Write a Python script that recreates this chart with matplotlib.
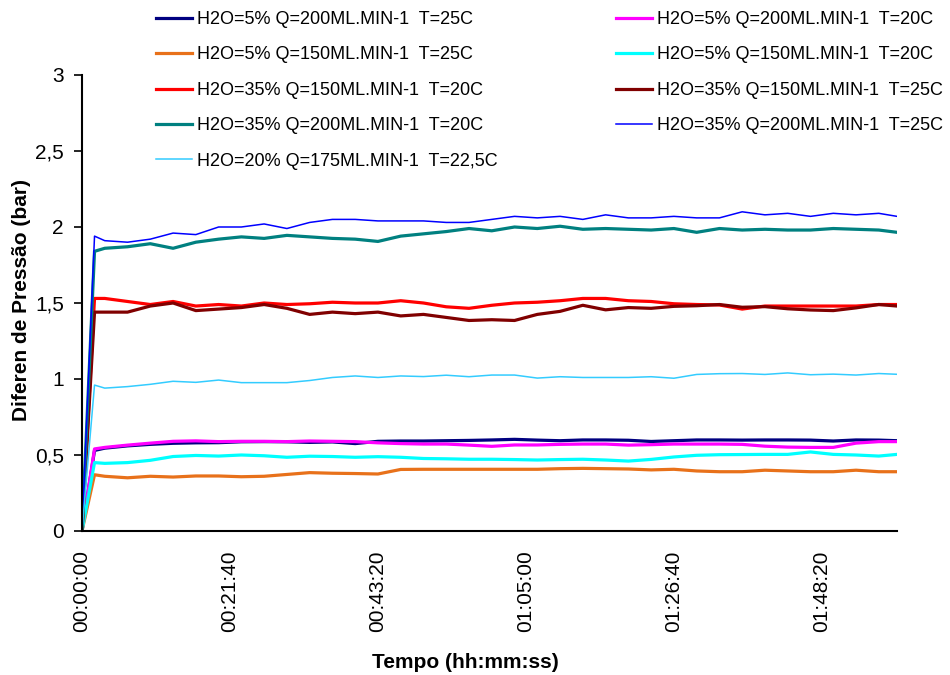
import matplotlib
matplotlib.use("Agg")
import matplotlib.pyplot as plt
from matplotlib.ticker import FuncFormatter, MultipleLocator

plt.rcParams['font.family'] = ['Liberation Sans', 'DejaVu Sans']

# time in seconds
time_s = [0, 110] + list(range(200, 7001, 200)) + [7160]

navy_5_200_25 = [0, 0.53, 0.545, 0.56, 0.57, 0.577, 0.58, 0.581, 0.587, 0.588, 0.587, 0.583, 0.586, 0.575,
                 0.59, 0.592, 0.592, 0.594, 0.596, 0.599, 0.603, 0.598, 0.594, 0.599, 0.599, 0.597, 0.589,
                 0.594, 0.599, 0.599, 0.598, 0.599, 0.599, 0.598, 0.592, 0.599, 0.598, 0.594]
magenta_5_200_20 = [0, 0.54, 0.55, 0.565, 0.578, 0.59, 0.593, 0.588, 0.59, 0.59, 0.588, 0.592, 0.59, 0.588,
                    0.58, 0.575, 0.572, 0.572, 0.565, 0.557, 0.566, 0.566, 0.57, 0.572, 0.572, 0.565, 0.568,
                    0.572, 0.572, 0.572, 0.57, 0.558, 0.552, 0.55, 0.55, 0.578, 0.588, 0.588]
orange_5_150_25 = [0, 0.37, 0.36, 0.35, 0.36, 0.355, 0.362, 0.362, 0.357, 0.36, 0.372, 0.384, 0.38, 0.378,
                   0.375, 0.405, 0.406, 0.406, 0.406, 0.406, 0.406, 0.406, 0.41, 0.412, 0.41, 0.408, 0.402,
                   0.406, 0.395, 0.39, 0.39, 0.40, 0.395, 0.39, 0.39, 0.40, 0.39, 0.39]
cyan_5_150_20 = [0, 0.45, 0.445, 0.45, 0.465, 0.49, 0.497, 0.493, 0.5, 0.495, 0.485, 0.492, 0.49, 0.485,
                 0.489, 0.485, 0.477, 0.475, 0.472, 0.472, 0.47, 0.467, 0.47, 0.472, 0.467, 0.46, 0.471,
                 0.487, 0.498, 0.502, 0.503, 0.504, 0.504, 0.52, 0.504, 0.5, 0.493, 0.504]
red_35_150_20 = [0, 1.53, 1.53, 1.51, 1.49, 1.51, 1.48, 1.49, 1.48, 1.50, 1.49, 1.495, 1.505, 1.50,
                 1.50, 1.515, 1.50, 1.475, 1.465, 1.485, 1.50, 1.505, 1.515, 1.53, 1.53, 1.515, 1.51,
                 1.495, 1.49, 1.487, 1.46, 1.48, 1.48, 1.48, 1.48, 1.48, 1.49, 1.49]
darkred_35_150_25 = [0, 1.44, 1.44, 1.44, 1.48, 1.50, 1.45, 1.46, 1.47, 1.49, 1.465, 1.425, 1.44, 1.43,
                     1.44, 1.415, 1.425, 1.405, 1.385, 1.39, 1.385, 1.425, 1.445, 1.485, 1.455, 1.47, 1.465,
                     1.478, 1.482, 1.49, 1.472, 1.476, 1.462, 1.454, 1.45, 1.468, 1.49, 1.48]
teal_35_200_20 = [0, 1.84, 1.86, 1.87, 1.89, 1.86, 1.90, 1.92, 1.935, 1.925, 1.945, 1.935, 1.925, 1.92,
                  1.905, 1.94, 1.955, 1.97, 1.99, 1.975, 2.0, 1.99, 2.005, 1.985, 1.99, 1.985, 1.98,
                  1.99, 1.965, 1.99, 1.98, 1.985, 1.98, 1.98, 1.99, 1.985, 1.98, 1.965]
blue_35_200_25 = [0, 1.94, 1.91, 1.90, 1.92, 1.96, 1.95, 2.0, 2.0, 2.02, 1.99, 2.03, 2.05, 2.05,
                  2.04, 2.04, 2.04, 2.03, 2.03, 2.05, 2.07, 2.06, 2.07, 2.05, 2.08, 2.06, 2.06,
                  2.07, 2.06, 2.06, 2.10, 2.08, 2.09, 2.07, 2.09, 2.08, 2.09, 2.07]
lblue_20_175_225 = [0, 0.96, 0.94, 0.95, 0.965, 0.985, 0.978, 0.993, 0.976, 0.976, 0.976, 0.99, 1.01, 1.02,
                    1.01, 1.02, 1.016, 1.025, 1.015, 1.026, 1.026, 1.006, 1.015, 1.01, 1.01, 1.01, 1.015,
                    1.005, 1.03, 1.035, 1.036, 1.03, 1.04, 1.028, 1.032, 1.026, 1.036, 1.031]

labels = ["H2O=5% Q=200ML.MIN-1  T=25C", "H2O=5% Q=200ML.MIN-1  T=20C",
          "H2O=5% Q=150ML.MIN-1  T=25C", "H2O=5% Q=150ML.MIN-1  T=20C",
          "H2O=35% Q=150ML.MIN-1  T=20C", "H2O=35% Q=150ML.MIN-1  T=25C",
          "H2O=35% Q=200ML.MIN-1  T=20C", "H2O=35% Q=200ML.MIN-1  T=25C",
          "H2O=20% Q=175ML.MIN-1  T=22,5C"]
series = [navy_5_200_25, magenta_5_200_20, orange_5_150_25, cyan_5_150_20,
          red_35_150_20, darkred_35_150_25, teal_35_200_20, blue_35_200_25, lblue_20_175_225]
colors = ["#000080", "#FF00FF", "#E8711A", "#00FFFF", "#FF0000", "#800000", "#008080", "#0000FF", "#33CCFF"]
widths = [2.3, 2.3, 2.3, 2.3, 2.3, 2.3, 2.3, 1.1, 1.1]

fig = plt.figure(figsize=(9.5, 6.75), dpi=100)
ax = fig.add_axes([82/950, 144/675, 815/950, 456/675])

handles = {}
for lab, ys, c, w in zip(labels, series, colors, widths):
    ln, = ax.plot(time_s, ys, color=c, lw=w, label=lab, solid_joinstyle='round')
    handles[lab] = ln

ax.set_xlim(0, 7160)
ax.set_ylim(0, 3)
ax.yaxis.set_major_locator(MultipleLocator(0.5))
ax.yaxis.set_major_formatter(FuncFormatter(lambda v, p: ("%g" % v).replace('.', ',')))
ax.xaxis.set_major_locator(MultipleLocator(1300))

def hms(v, p):
    v = int(round(v))
    return "%02d:%02d:%02d" % (v // 3600, (v % 3600) // 60, v % 60)

ax.xaxis.set_major_formatter(FuncFormatter(hms))
for s in ['top', 'right']:
    ax.spines[s].set_visible(False)
for s in ['left', 'bottom']:
    ax.spines[s].set_linewidth(1.5)
ax.tick_params(axis='y', direction='out', length=6, width=1.2, labelsize=15, pad=7)
ax.tick_params(axis='x', length=0, labelsize=15, pad=14, labelrotation=90)

ax.set_ylabel("Diferen de Pressão (bar)", fontsize=15, fontweight='bold')
ax.yaxis.set_label_coords(-(82 - 22) / 815, (531 - 300) / 456)
ax.set_xlabel("Tempo (hh:mm:ss)", fontsize=15, fontweight='bold')
ax.xaxis.set_label_coords((465 - 82) / 815, -(663 - 531) / 456)
ax.xaxis.label.set_va('center')
ax.yaxis.label.set_va('center')

col1 = [labels[0], labels[2], labels[4], labels[6], labels[8]]
col2 = [labels[1], labels[3], labels[5], labels[7]]
kw = dict(frameon=False, fontsize=13, handlelength=2.0, handletextpad=0.25,
          labelspacing=1.02, borderpad=0, borderaxespad=0, loc='upper left')
leg1 = fig.legend([handles[l] for l in col1], col1, bbox_to_anchor=(156/950, 1 - 11/675), **kw)
leg2 = fig.legend([handles[l] for l in col2], col2, bbox_to_anchor=(616/950, 1 - 11/675), **kw)

fig.savefig("out.png", dpi=100)
